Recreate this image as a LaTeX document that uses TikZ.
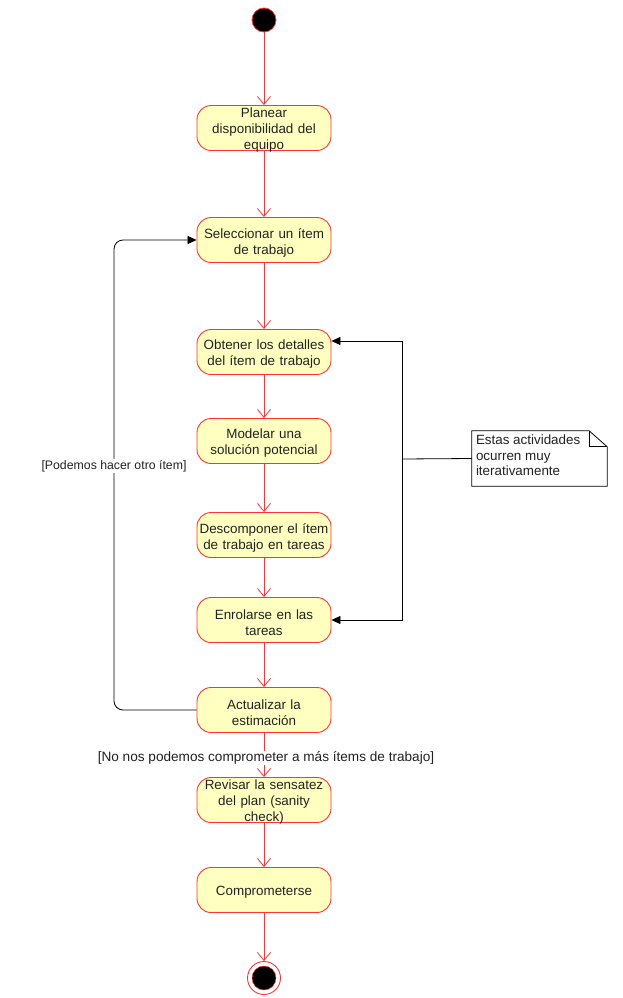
\documentclass[tikz,border=0pt]{standalone}
\usepackage{fontspec}
\setmainfont{Liberation Sans}
\usetikzlibrary{arrows.meta}
\definecolor{actred}{HTML}{FF3333}
\definecolor{actfill}{HTML}{FFFFC0}
\definecolor{txt}{HTML}{222222}
\tikzset{
  activity/.style={draw=actred, fill=actfill, rounded corners=14pt, line width=0.9pt,
    minimum width=134pt, minimum height=45pt, inner sep=0pt},
  acttext/.style={yshift=-2.5pt, inner sep=0pt, text width=134pt, align=center,
    text=txt, font=\fontsize{13.4}{16}\selectfont},
  flow/.style={draw=actred, line width=0.8pt, -{Straight Barb[length=8pt,width=13pt,line width=0.8pt]}},
  back/.style={draw=black, line width=0.8pt, -{Triangle[length=9pt,width=8pt]}},
  guard/.style={fill=white, inner sep=1pt, text=txt},
}
\begin{document}
\begin{tikzpicture}[x=1pt,y=-1pt]
\useasboundingbox (0,0) rectangle (622,998);
\fill[white] (0,0) rectangle (622,998);

% initial and final nodes
\node[circle, draw=actred, fill=black, minimum size=24pt, inner sep=0pt, line width=0.8pt] (start) at (264,20) {};
\node[circle, draw=actred, fill=white, minimum size=33pt, inner sep=0pt, line width=0.9pt] (endo) at (264,978) {};
\node[circle, draw=actred, fill=black, minimum size=24pt, inner sep=0pt, line width=0.5pt] (endi) at (264,978) {};

% activities
\node[activity, label={[acttext]center:Planear\\disponibilidad del\\equipo}] (b1) at (264,128) {};
\node[activity, label={[acttext]center:Seleccionar un ítem\\de trabajo}] (b2) at (264,240) {};
\node[activity, label={[acttext]center:Obtener los detalles\\del ítem de trabajo}] (b3) at (264,352) {};
\node[activity, label={[acttext]center:Modelar una\\solución potencial}] (b4) at (264,441) {};
\node[activity, label={[acttext]center:Descomponer el ítem\\de trabajo en tareas}] (b5) at (264,535) {};
\node[activity, label={[acttext]center:Enrolarse en las\\tareas}] (b6) at (264,620) {};
\node[activity, label={[acttext]center:Actualizar la\\estimación}] (b7) at (264,710) {};
\node[activity, label={[acttext]center:Revisar la sensatez\\del plan (sanity\\check)}] (b8) at (264,800) {};
\node[activity, label={[acttext]center:Comprometerse}] (b9) at (264,890) {};

% main flow
\draw[flow] (start) -- (b1);
\draw[flow] (b1) -- (b2);
\draw[flow] (b2) -- (b3);
\draw[flow] (b3) -- (b4);
\draw[flow] (b4) -- (b5);
\draw[flow] (b5) -- (b6);
\draw[flow] (b6) -- (b7);
\draw[flow] (b7) -- (b8);
\draw[flow] (b8) -- (b9);
\draw[flow] (b9) -- (endo);
\node[guard, font=\fontsize{13.6}{16}\selectfont] (g2) at (266,758) {[No nos podemos comprometer a más ítems de trabajo]};

% loop back to selecting another item
\coordinate (lc) at (114,466);
\draw[back, rounded corners=9pt] (b7.west) -| (lc) |- (b2.west);
\node[guard, font=\fontsize{12.3}{14}\selectfont] (g1) at (lc) {[Podemos hacer otro ítem]};

% note on the iterative activities
\node[minimum width=135pt, minimum height=55pt, inner sep=0pt] (note) at (539.5,458.5) {};
\draw[line width=0.8pt] (note.north west) -- ([xshift=-18pt]note.north east)
  -- ([yshift=-16pt]note.north east) -- (note.south east) -- (note.south west) -- cycle;
\draw[line width=0.8pt] ([xshift=-18pt]note.north east) |- ([yshift=-16pt]note.north east);
\node[anchor=north west, inner sep=0pt, align=left, text=txt, font=\fontsize{13.4}{15.5}\selectfont] (notetext)
  at ([xshift=4pt,yshift=-4pt]note.north west) {Estas actividades\\ocurren muy\\iterativamente};
\coordinate (fork) at (402,459);
\draw[line width=0.8pt] (note.west) -- (fork);
\draw[back] (fork) |- ([yshift=11pt]b3.east);
\draw[back] (fork) |- (b6.east);
\end{tikzpicture}
\end{document}
